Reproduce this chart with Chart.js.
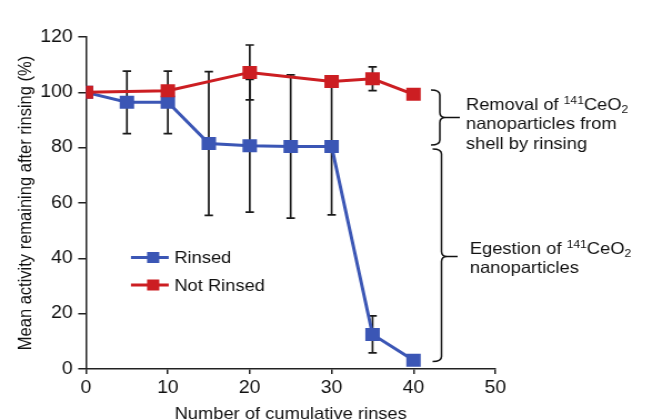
<!DOCTYPE html>
<html lang="en">
  <head>
    <meta charset="UTF-8" />
    <title>Mean activity remaining after rinsing</title>
    <style>
      * {
        margin: 0;
        padding: 0;
        box-sizing: border-box;
      }
      body {
        background: #fff;
        width: 662px;
        height: 419px;
        overflow: hidden;
      }
      /* the original figure is slightly stretched horizontally */
      .chartBox {
        width: 596px;
        height: 419px;
        transform: scaleX(1.1107);
        transform-origin: 0 0;
      }
    </style>
  </head>
  <body>
    <div class="chartBox">
      <canvas id="myChart"></canvas>
    </div>

    <script src="https://cdn.jsdelivr.net/npm/chart.js"></script>

    <script>
      const rinsedX = [0, 5, 10, 15, 20, 25, 30, 35, 40];
      const rinsedY = [100, 96.4, 96.4, 81.5, 80.7, 80.4, 80.4, 12.5, 3.2];
      const rinsedErr = [0, 11.3, 11.3, 26, 24, 25.9, 24.7, 6.7, 0];

      const notRinsedX = [0, 10, 20, 30, 35, 40];
      const notRinsedY = [100, 100.6, 107.2, 103.9, 104.9, 99.3];
      const notRinsedErr = [0, 0, 9.9, 0, 4.3, 0];

      const xTicks = [0, 10, 20, 30, 40, 50];
      const yTicks = [0, 20, 40, 60, 80, 100, 120];

      const BLUE = "#3b56b5";
      const RED = "#cc1e22";
      const INK = "#111";
      const FONT = "'Liberation Sans', Arial, sans-serif";

      Chart.defaults.font.family = FONT;
      Chart.defaults.color = INK;

      const ctx = document.getElementById("myChart");

      const toPoints = (xs, ys) => xs.map((v, i) => ({ x: v, y: ys[i] }));

      const errorBars = {
        id: "errorBars",
        beforeDatasetsDraw(chart) {
          const {
            ctx,
            scales: { x, y },
          } = chart;
          ctx.save();
          ctx.strokeStyle = "#1a1a1a";
          ctx.lineWidth = 1.7;
          const draw = (xs, ys, es) => {
            xs.forEach((v, i) => {
              if (!es[i]) return;
              const px = x.getPixelForValue(v);
              const top = y.getPixelForValue(ys[i] + es[i]);
              const bot = y.getPixelForValue(ys[i] - es[i]);
              ctx.beginPath();
              ctx.moveTo(px, top);
              ctx.lineTo(px, bot);
              ctx.moveTo(px - 3.8, top);
              ctx.lineTo(px + 3.8, top);
              ctx.moveTo(px - 3.8, bot);
              ctx.lineTo(px + 3.8, bot);
              ctx.stroke();
            });
          };
          draw(rinsedX, rinsedY, rinsedErr);
          draw(notRinsedX, notRinsedY, notRinsedErr);
          ctx.restore();
        },
      };

      // text with superscript / subscript pieces
      function richText(ctx, parts, x, y, size) {
        let cx = x;
        parts.forEach(([t, kind]) => {
          let s = size;
          let dy = 0;
          if (kind === "sup") {
            s = size * 0.66;
            dy = -size * 0.36;
          } else if (kind === "sub") {
            s = size * 0.66;
            dy = size * 0.2;
          }
          ctx.font = s + "px " + FONT;
          ctx.fillText(t, cx, y + dy);
          cx += ctx.measureText(t).width;
        });
      }

      function brace(ctx, x, yTop, yTip, yBot, tipEnd) {
        const c = 5;
        ctx.beginPath();
        ctx.moveTo(x - c * 1.6, yTop);
        ctx.quadraticCurveTo(x, yTop, x, yTop + c);
        ctx.lineTo(x, yTip - c);
        ctx.quadraticCurveTo(x, yTip, x + c, yTip);
        ctx.lineTo(tipEnd, yTip);
        ctx.moveTo(x + c, yTip);
        ctx.quadraticCurveTo(x, yTip, x, yTip + c);
        ctx.lineTo(x, yBot - c);
        ctx.quadraticCurveTo(x, yBot, x - c * 1.6, yBot);
        ctx.stroke();
      }

      const extras = {
        id: "extras",
        afterDraw(chart) {
          const { ctx, chartArea } = chart;
          const L = chartArea.left;
          ctx.save();

          // legend inside the plot
          const rows = [
            ["Rinsed", BLUE, 257.5],
            ["Not Rinsed", RED, 285],
          ];
          rows.forEach(([label, col, yy]) => {
            ctx.strokeStyle = col;
            ctx.lineWidth = 3;
            ctx.beginPath();
            ctx.moveTo(L + 40.5, yy);
            ctx.lineTo(L + 74.5, yy);
            ctx.stroke();
            ctx.fillStyle = col;
            ctx.fillRect(L + 55, yy - 5.5, 11, 11);
            ctx.fillStyle = INK;
            ctx.font = "16.5px " + FONT;
            ctx.textBaseline = "middle";
            ctx.textAlign = "left";
            ctx.fillText(label, L + 79.5, yy + 1);
          });

          // braces and their notes
          ctx.strokeStyle = INK;
          ctx.lineWidth = 1.5;
          brace(ctx, 396, 90, 117.5, 145, 414);
          brace(ctx, 397.5, 149, 256.5, 361.5, 412);

          ctx.fillStyle = INK;
          ctx.textBaseline = "alphabetic";
          ctx.textAlign = "left";
          const fs = 16.5;
          richText(ctx, [["Removal of ", 0], ["141", "sup"], ["CeO", 0], ["2", "sub"]], 419.5, 109.5, fs);
          richText(ctx, [["nanoparticles from", 0]], 419.5, 129, fs);
          richText(ctx, [["shell by rinsing", 0]], 419.5, 148.5, fs);
          richText(ctx, [["Egestion of ", 0], ["141", "sup"], ["CeO", 0], ["2", "sub"]], 423, 253.5, fs);
          richText(ctx, [["nanoparticles", 0]], 423, 273, fs);

          ctx.restore();
        },
      };

      const axisGrid = {
        display: true,
        drawOnChartArea: false,
        drawTicks: true,
        color: "#222",
        lineWidth: 1.5,
      };

      const config = {
        type: "line",
        data: {
          datasets: [
            {
              label: "Not Rinsed",
              data: toPoints(notRinsedX, notRinsedY),
              borderColor: RED,
              backgroundColor: RED,
              borderWidth: 3,
              pointStyle: "rect",
              pointRadius: 9.2,
              pointHoverRadius: 9.2,
              pointBorderWidth: 0,
              tension: 0,
            },
            {
              label: "Rinsed",
              data: toPoints(rinsedX, rinsedY),
              borderColor: BLUE,
              backgroundColor: BLUE,
              borderWidth: 3,
              pointStyle: "rect",
              pointRadius: 9.2,
              pointHoverRadius: 9.2,
              pointBorderWidth: 0,
              tension: 0,
            },
          ],
        },
        options: {
          responsive: true,
          maintainAspectRatio: false,
          animation: false,
          layout: {
            padding: { left: 0, right: 150, top: 37, bottom: 0 },
          },
          plugins: {
            legend: { display: false },
            tooltip: { enabled: false },
          },
          scales: {
            x: {
              type: "linear",
              min: 0,
              max: 50,
              afterBuildTicks: (s) => {
                s.ticks = xTicks.map((v) => ({ value: v }));
              },
              afterFit: (s) => {
                s.height = 50;
              },
              ticks: {
                color: INK,
                padding: 4,
                font: { size: 17.5 },
              },
              grid: { ...axisGrid, tickLength: 5 },
              border: { display: true, color: "#222", width: 1.5 },
              title: {
                display: true,
                text: "Number of cumulative rinses",
                color: INK,
                font: { size: 16.5, lineHeight: 0.7 },
                padding: { top: 0, bottom: -1.5 },
              },
            },
            y: {
              min: 0,
              max: 120,
              afterBuildTicks: (s) => {
                s.ticks = yTicks.map((v) => ({ value: v }));
              },
              afterFit: (s) => {
                s.width = 77.4;
              },
              ticks: {
                color: INK,
                padding: 5,
                font: { size: 17.5 },
              },
              grid: { ...axisGrid, tickLength: 7 },
              border: { display: true, color: "#222", width: 1.5 },
              title: {
                display: true,
                text: "Mean activity remaining after rinsing (%)",
                color: INK,
                font: { size: 16.5, lineHeight: 0.7 },
                padding: { top: 17.3, bottom: 0 },
              },
            },
          },
        },
        plugins: [errorBars, extras],
      };

      const myChart = new Chart(ctx, config);
    </script>
  </body>
</html>
